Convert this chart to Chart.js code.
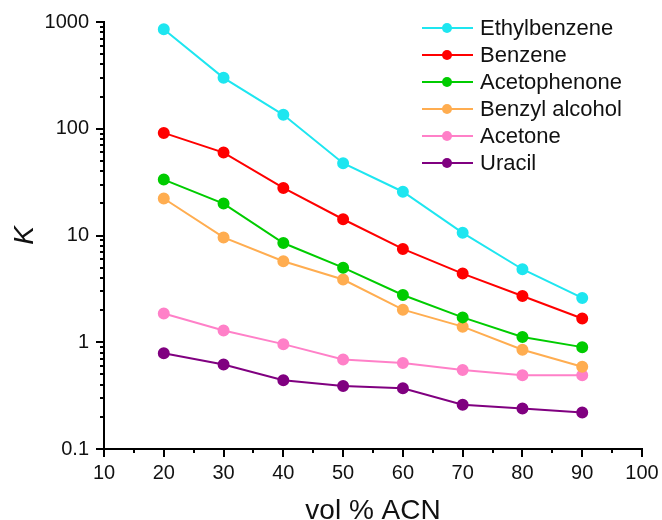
<!DOCTYPE html>
<html>
<head>
<meta charset="utf-8">
<script src="https://cdn.jsdelivr.net/npm/chart.js@4"></script>
<style>
  html, body { margin: 0; padding: 0; background: #fff; }
  #wrap { width: 662px; height: 520px; }
</style>
</head>
<body>
<div id="wrap"><canvas id="grafico"></canvas></div>
<script>
// vol % ACN
const acn = [20, 30, 40, 50, 60, 70, 80, 90];

const ethylbenzene = [855, 300, 135, 47.5, 25.7, 10.6, 4.83, 2.6];
const benzene = [91.4, 59.8, 27.9, 14.2, 7.48, 4.4, 2.71, 1.67];
const acetophenone = [33.4, 19.9, 8.5, 5.0, 2.77, 1.71, 1.12, 0.9];
const benzylAlcohol = [22.2, 9.6, 5.74, 3.87, 2.02, 1.4, 0.85, 0.59];
const acetone = [1.86, 1.29, 0.96, 0.69, 0.64, 0.55, 0.49, 0.49];
const uracil = [0.79, 0.62, 0.44, 0.39, 0.37, 0.26, 0.24, 0.22];

const nomes = ['Ethylbenzene', 'Benzene', 'Acetophenone', 'Benzyl alcohol', 'Acetone', 'Uracil'];
const cores = ['#1ee6f0', '#ff0000', '#00cc00', '#ffad50', '#ff80c8', '#800080'];
const series = [ethylbenzene, benzene, acetophenone, benzylAlcohol, acetone, uracil];

const yTicks = [0.1, 1, 10, 100, 1000];
const xTicks = [10, 20, 30, 40, 50, 60, 70, 80, 90, 100];

const fonte = "'Liberation Sans', Arial, sans-serif";

const datasets = [];
for (let i = 0; i < series.length; i++) {
    datasets.push({
        label: nomes[i],
        data: acn.map(function (x, j) { return { x: x, y: series[i][j] }; }),
        borderColor: cores[i],
        backgroundColor: cores[i],
        borderWidth: 2,
        pointRadius: 5,
        pointHoverRadius: 5,
        tension: 0
    });
}

// minor/major tick marks drawn outside the axes
const marcas = {
    id: 'marcas',
    afterDraw(chart) {
        const ctx = chart.ctx;
        const xs = chart.scales.x, ys = chart.scales.y;
        const area = chart.chartArea;
        ctx.save();
        ctx.strokeStyle = '#000';
        ctx.lineWidth = 2;
        ctx.beginPath();
        for (let d = 0.1; d <= 1000; d *= 10) {
            for (let k = 1; k <= 9; k++) {
                const v = d * k;
                if (v > 1000.0001) break;
                const py = Math.round(ys.getPixelForValue(v));
                const len = k === 1 ? 8 : 4;
                ctx.moveTo(area.left, py);
                ctx.lineTo(area.left - len, py);
            }
        }
        for (let v = 10; v <= 100; v += 5) {
            const px = Math.round(xs.getPixelForValue(v));
            const len = v % 10 === 0 ? 8 : 4;
            ctx.moveTo(px, area.bottom);
            ctx.lineTo(px, area.bottom + len);
        }
        ctx.stroke();
        ctx.restore();
    }
};

// legend inside the plot, top right
const legenda = {
    id: 'legenda',
    afterDraw(chart) {
        const ctx = chart.ctx;
        ctx.save();
        ctx.font = '22px ' + fonte;
        ctx.textBaseline = 'middle';
        chart.data.datasets.forEach(function (ds, i) {
            const y = 28 + i * 27;
            ctx.strokeStyle = ds.borderColor;
            ctx.lineWidth = 2;
            ctx.beginPath();
            ctx.moveTo(422, y);
            ctx.lineTo(473, y);
            ctx.stroke();
            ctx.fillStyle = ds.borderColor;
            ctx.beginPath();
            ctx.arc(447, y, 5, 0, Math.PI * 2);
            ctx.fill();
            ctx.fillStyle = '#111';
            ctx.fillText(ds.label, 480, y + 1);
        });
        ctx.restore();
    }
};

const config = {
    type: 'line',
    data: { datasets: datasets },
    options: {
        responsive: true,
        maintainAspectRatio: false,
        animation: false,
        layout: { padding: { top: 22, right: 20, left: 0, bottom: 0 } },
        plugins: { legend: { display: false }, tooltip: { enabled: false } },
        scales: {
            x: {
                type: 'linear',
                min: 10,
                max: 100,
                afterBuildTicks: function (scale) {
                    scale.ticks = xTicks.map(function (v) { return { value: v }; });
                },
                afterFit: function (scale) {
                    scale.height = 71;
                    scale.paddingLeft = 0;
                    scale.paddingRight = 0;
                },
                grid: { display: false, drawTicks: false },
                border: { display: true, color: '#000', width: 2 },
                ticks: {
                    padding: 12,
                    color: '#111',
                    maxRotation: 0,
                    font: { family: fonte, size: 20 }
                },
                title: {
                    display: true,
                    text: 'vol % ACN',
                    color: '#111',
                    font: { family: fonte, size: 28 },
                    padding: { top: 0, bottom: -8 }
                }
            },
            y: {
                type: 'logarithmic',
                min: 0.1,
                max: 1000,
                afterBuildTicks: function (scale) {
                    scale.ticks = yTicks.map(function (v) { return { value: v }; });
                },
                afterFit: function (scale) {
                    scale.width = 104;
                    scale.paddingTop = 0;
                    scale.paddingBottom = 0;
                },
                grid: { display: false, drawTicks: false },
                border: { display: true, color: '#000', width: 2 },
                ticks: {
                    padding: 15,
                    color: '#111',
                    font: { family: fonte, size: 20 },
                    callback: function (v) { return String(v); }
                },
                title: {
                    display: true,
                    text: 'K',
                    color: '#111',
                    font: { family: fonte, size: 28, style: 'italic' },
                    padding: { top: 8, bottom: 0 }
                }
            }
        }
    },
    plugins: [marcas, legenda]
};

const ctx = document.getElementById('grafico').getContext('2d');
let grafico = new Chart(ctx, config);
</script>
</body>
</html>
